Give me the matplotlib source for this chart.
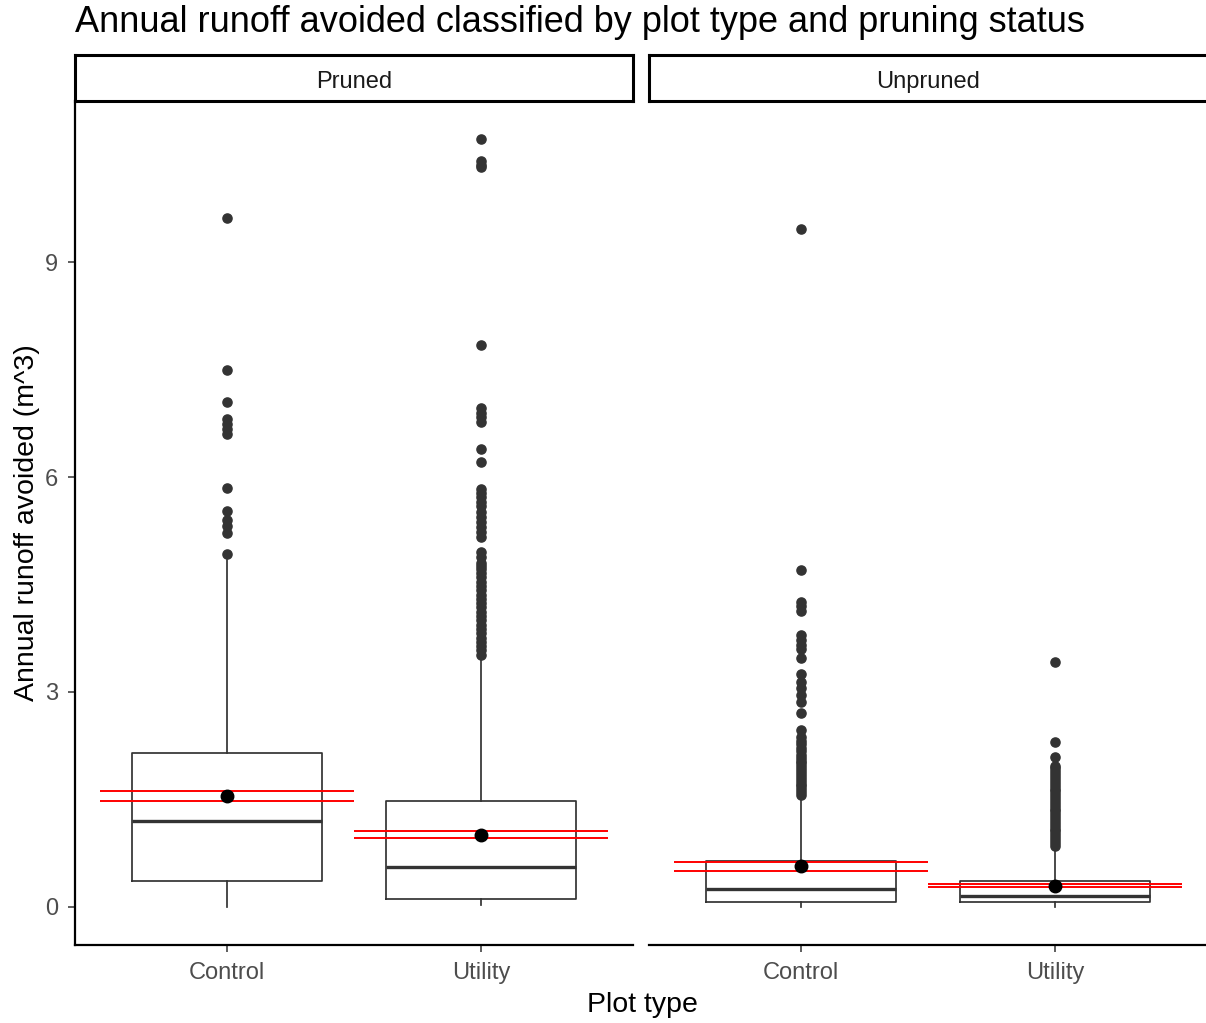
import matplotlib
matplotlib.use("Agg")
import matplotlib.pyplot as plt

plt.rcParams["font.family"] = ["Liberation Sans", "DejaVu Sans"]

# panels and groups
panels = ["Pruned", "Unpruned"]
plot_types = ["Control", "Utility"]

# box statistics: (whislo, q1, median, q3, whishi)
pruned_control = [0.0, 0.36, 1.20, 2.15, 4.84]
pruned_utility = [0.02, 0.10, 0.56, 1.47, 3.45]
unpruned_control = [0.0, 0.06, 0.24, 0.64, 1.50]
unpruned_utility = [0.0, 0.06, 0.15, 0.36, 0.80]

# means with confidence band (mean, lower, upper)
pruned_control_mean = [1.54, 1.47, 1.61]
pruned_utility_mean = [1.00, 0.96, 1.05]
unpruned_control_mean = [0.57, 0.50, 0.63]
unpruned_utility_mean = [0.29, 0.27, 0.31]

# outliers
pruned_control_out = [9.62, 7.50, 7.05, 6.82, 6.75, 6.68, 6.60, 5.85, 5.53,
                      5.40, 5.32, 5.22, 4.93]
pruned_utility_out = [10.72, 10.42, 10.36, 10.33, 7.84, 6.96, 6.90, 6.84, 6.77,
                      6.40, 6.21, 5.84, 5.78, 5.72, 5.66, 5.60, 5.52, 5.45,
                      5.38, 5.31, 5.24, 5.17, 4.96, 4.88, 4.80, 4.76, 4.72,
                      4.66, 4.60, 4.54, 4.48, 4.42, 4.36, 4.30, 4.24, 4.18,
                      4.12, 4.06, 4.00, 3.94, 3.88, 3.82, 3.76, 3.70, 3.64,
                      3.58, 3.52]
unpruned_control_out = [9.47, 4.71, 4.26, 4.20, 4.13, 3.79, 3.72, 3.66, 3.60,
                        3.48, 3.25, 3.14, 3.05, 2.95, 2.86, 2.70, 2.47, 2.37,
                        2.32, 2.27, 2.22, 2.17, 2.12, 2.07, 2.04, 2.00, 1.96,
                        1.92, 1.88, 1.84, 1.80, 1.76, 1.72, 1.68, 1.64, 1.60,
                        1.56]
unpruned_utility_out = [3.42, 2.30, 2.09, 1.97, 1.93, 1.89, 1.85, 1.81, 1.77,
                        1.73, 1.69, 1.65, 1.61, 1.57, 1.53, 1.49, 1.45, 1.41,
                        1.37, 1.33, 1.29, 1.25, 1.21, 1.17, 1.13, 1.09, 1.05,
                        1.01, 0.97, 0.93, 0.89, 0.85]

groups = {
    "Pruned": [(pruned_control, pruned_control_mean, pruned_control_out),
               (pruned_utility, pruned_utility_mean, pruned_utility_out)],
    "Unpruned": [(unpruned_control, unpruned_control_mean, unpruned_control_out),
                 (unpruned_utility, unpruned_utility_mean, unpruned_utility_out)],
}

W, H = 1206, 1023
fig = plt.figure(figsize=(W / 100, H / 100), dpi=100)

dark = "#333333"
grey = "#4D4D4D"
lefts = [75, 649]
pw = 558
top, bottom = 101, 945

for i, panel in enumerate(panels):
    ax = fig.add_axes([lefts[i] / W, 1 - bottom / H, pw / W, (bottom - top) / H])
    stats = []
    for j, (s, m, out) in enumerate(groups[panel]):
        stats.append(dict(whislo=s[0], q1=s[1], med=s[2], q3=s[3], whishi=s[4],
                          fliers=out, label=plot_types[j]))
    pos = [1, 2]
    ax.bxp(stats, positions=pos, widths=0.75, showcaps=False, patch_artist=False,
           boxprops=dict(color=dark, lw=1.25),
           whiskerprops=dict(color=dark, lw=1.25),
           medianprops=dict(color=dark, lw=2.4),
           flierprops=dict(marker="o", markerfacecolor=dark, markeredgecolor=dark,
                           markersize=6.6, linestyle="none"))
    for j, (s, m, out) in enumerate(groups[panel]):
        ax.hlines([m[1], m[2]], pos[j] - 0.5, pos[j] + 0.5, color="red", lw=1.4, zorder=4)
        ax.plot(pos[j], m[0], "o", color="black", markersize=9, zorder=5)

    ax.set_xlim(0.4, 2.6)
    ax.set_ylim(-0.536, 11.256)
    ax.set_xticks(pos)
    ax.set_xticklabels(plot_types)
    ax.set_yticks([0, 3, 6, 9])
    ax.tick_params(colors=dark, labelcolor=grey, labelsize=17, length=5, width=1.1, pad=7)
    for sp in ["top", "right"]:
        ax.spines[sp].set_visible(False)
    ax.spines["bottom"].set_linewidth(1.6)
    ax.spines["bottom"].set_color("black")
    ax.spines["left"].set_linewidth(1.6)
    ax.spines["left"].set_color("black")
    if i == 0:
        ax.set_ylabel("Annual runoff avoided (m^3)", fontsize=20.5)
        ax.yaxis.set_label_coords(-0.062, 0.5)
    else:
        ax.spines["left"].set_visible(False)
        ax.tick_params(axis="y", left=False, labelleft=False)

    # facet strip
    sx = fig.add_axes([lefts[i] / W, 1 - top / H, pw / W, 46 / H])
    sx.set_xticks([])
    sx.set_yticks([])
    for sp in sx.spines.values():
        sp.set_linewidth(2.2)
        sp.set_color("black")
    sx.text(0.5, 0.42, panel, ha="center", va="center", fontsize=17, color="#1A1A1A",
            transform=sx.transAxes)

fig.text(75 / W, 1 - 22 / H, "Annual runoff avoided classified by plot type and pruning status",
         ha="left", va="center", fontsize=26)
fig.text(642 / W, 1 - 1005 / H, "Plot type", ha="center", va="center", fontsize=20.5)

fig.savefig("out.png", dpi=100)
